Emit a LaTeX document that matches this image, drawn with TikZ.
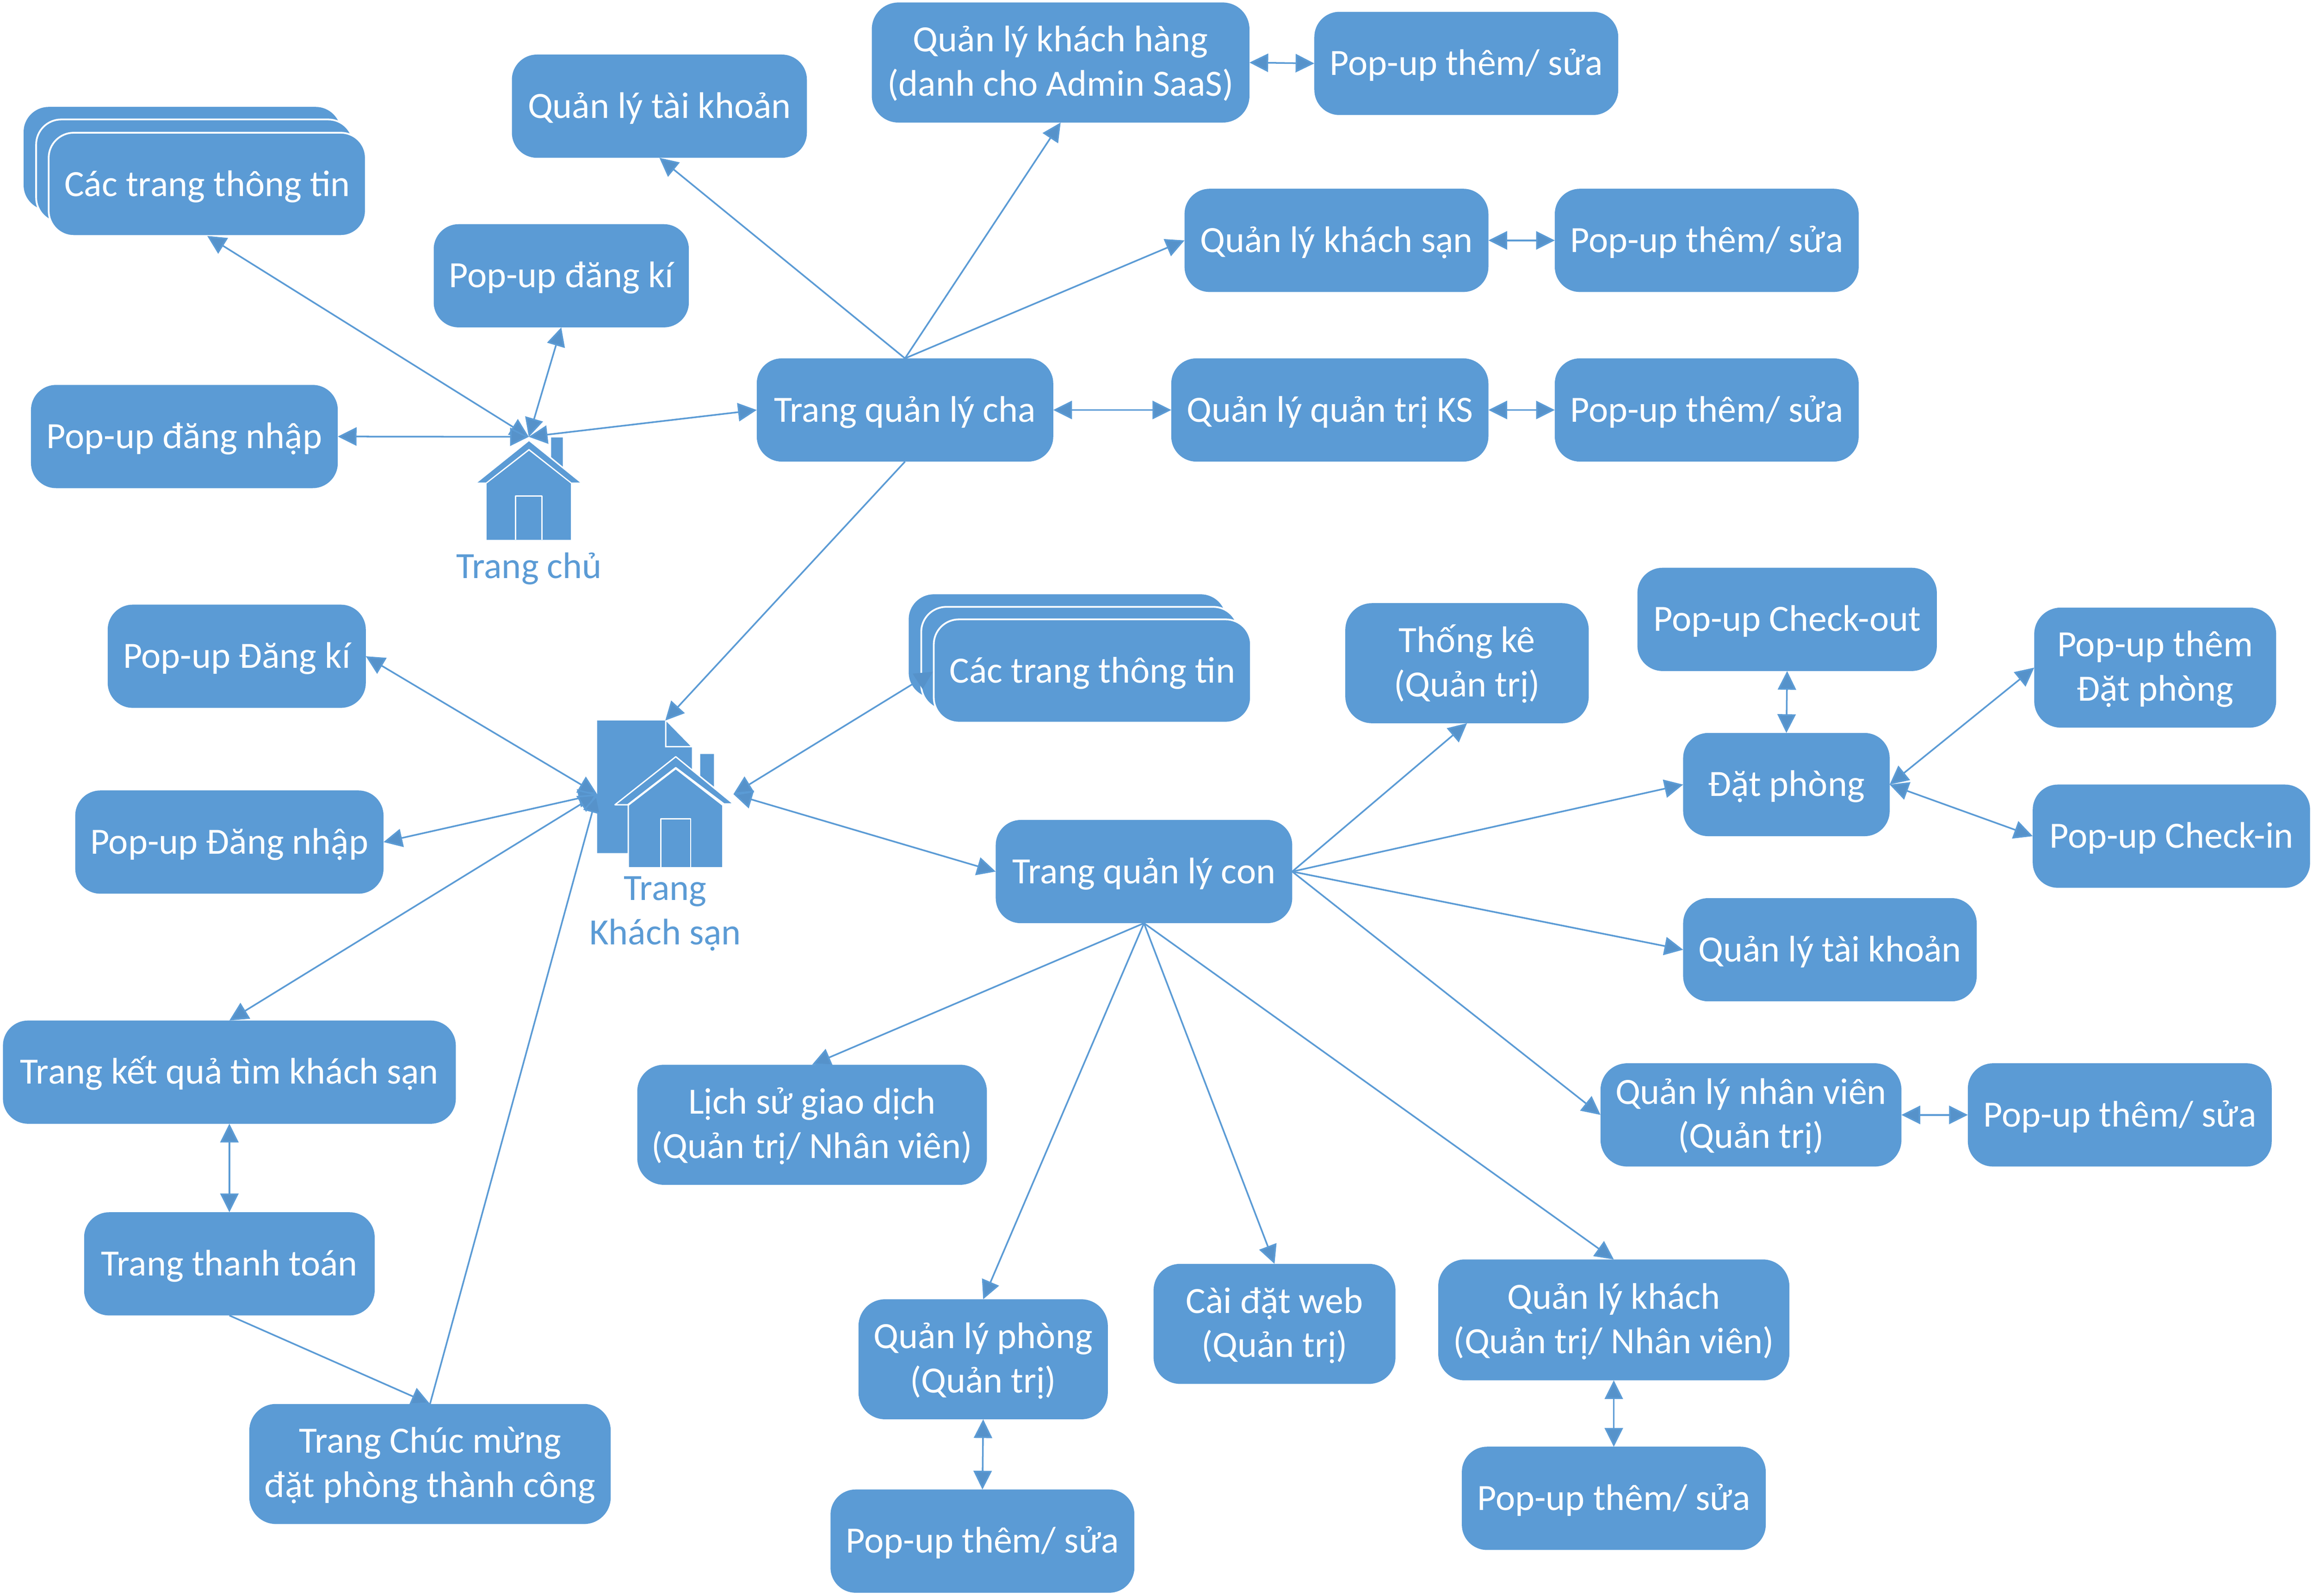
\documentclass[tikz,border=0pt]{standalone}
\usepackage{fontspec}
\setmainfont{Carlito}
\usetikzlibrary{arrows.meta}
\definecolor{fillblue}{HTML}{5B9BD5}
\definecolor{headblue}{HTML}{5692CA}
\newcommand{\stt}{\rule[-6pt]{0pt}{28pt}}
\newcommand{\tworow}[2]{\raisebox{-22.6pt}[0pt][0pt]{\begin{tabular}[b]{@{}c@{}}#1\\#2\end{tabular}}}
\newcommand{\bx}[6][pagebox]{%
  \pgfmathsetmacro\bw{#4-#2}\pgfmathsetmacro\bh{#5-#3}%
  \node[#1,minimum width=\bw pt,minimum height=\bh pt] (#6) at ({(#2+#4)/2},{(#3+#5)/2})}
\tikzset{
  boxbase/.style={fill=fillblue,inner sep=0pt,outer sep=0pt,text=white,
    font=\fontsize{25.1}{30}\selectfont},
  pagebox/.style={boxbase,rounded corners=17pt,execute at begin node=\stt},
  twobox/.style={boxbase,rounded corners=18pt},
  stackbox/.style={pagebox,draw=white,line width=1.2pt},
  link/.style={draw=fillblue,line width=1.1pt,-{Triangle[length=12.7pt,width=12.4pt,fill=headblue]}},
  linkboth/.style={draw=fillblue,line width=1.1pt,{Triangle[length=12.7pt,width=12.4pt,fill=headblue]}-{Triangle[length=12.7pt,width=12.4pt,fill=headblue]}},
  linkback/.style={draw=fillblue,line width=1.1pt,{Triangle[length=12.7pt,width=12.4pt,fill=headblue]}-},
  shapefill/.style={fill=fillblue},
  cutline/.style={fill=fillblue,draw=white,line width=0.9pt,line join=round},
  iconlabel/.style={text=fillblue,align=center,inner sep=0pt,font=\fontsize{25.1}{30}\selectfont},
  iconarea/.style={inner sep=0pt,outer sep=0pt}
}
\begin{document}
\begin{tikzpicture}[x=1pt,y=-1pt]
\useasboundingbox (0,0) rectangle (1568,1082.2);
% stacks
\bx{16}{72.5}{231}{142.5}{st1a} {};
\bx[stackbox]{24.5}{81}{239.5}{151}{st1b} {};
\bx[stackbox]{33}{90}{248}{160}{st1} {Các trang thông tin};
\bx{616}{403}{831}{473}{st2a} {};
\bx[stackbox]{624.5}{411.5}{839.5}{481.5}{st2b} {};
\bx[stackbox]{633}{420}{848}{490}{st2} {Các trang thông tin};
% boxes
\bx{347}{37}{547}{107}{tk1} {Quản lý tài khoản};
\bx[twobox]{591}{1.7}{847}{83.1}{kh} {\tworow{Quản lý khách hàng}{(danh cho Admin SaaS)}};
\bx{891}{8}{1097}{78}{pkh} {Pop-up thêm/ sửa};
\bx{803}{128}{1009}{198}{ks} {Quản lý khách sạn};
\bx{1054}{128}{1260}{198}{pks} {Pop-up thêm/ sửa};
\bx{294}{152}{467}{222}{dk1} {Pop-up đăng kí};
\bx{513}{243}{714}{313}{cha} {Trang quản lý cha};
\bx{21}{261}{229}{331}{dn1} {Pop-up đăng nhập};
\bx{794}{243}{1009}{313}{qt} {Quản lý quản trị KS};
\bx{1054}{243}{1260}{313}{pqt} {Pop-up thêm/ sửa};
\bx{73}{410}{248}{480}{dk2} {Pop-up Đăng kí};
\bx{51}{536}{260}{606}{dn2} {Pop-up Đăng nhập};
\bx{2}{692}{309}{762}{kq} {Trang kết quả tìm khách sạn};
\bx{57}{822}{254}{892}{tt} {Trang thanh toán};
\bx[twobox]{169}{952}{414}{1033.4}{cm} {\tworow{Trang Chúc mừng}{đặt phòng thành công}};
\bx[twobox]{912}{409}{1077}{490.4}{tke} {\tworow{Thống kê}{(Quản trị)}};
\bx{1110}{385}{1313}{455}{co} {Pop-up Check-out};
\bx[twobox]{1379}{412}{1543}{493.4}{pdp} {\tworow{Pop-up thêm}{Đặt phòng}};
\bx{1141}{497}{1281}{567}{dp} {Đặt phòng};
\bx{1378}{532}{1566}{602}{ci} {Pop-up Check-in};
\bx{675}{556}{876}{626}{con} {Trang quản lý con};
\bx{1141}{609}{1340}{679}{tk2} {Quản lý tài khoản};
\bx[twobox]{1085}{721}{1289}{791}{nv} {\tworow{Quản lý nhân viên}{(Quản trị)}};
\bx{1334}{721}{1540}{791}{pnv} {Pop-up thêm/ sửa};
\bx[twobox]{432}{722}{669}{803.4}{ls} {\tworow{Lịch sử giao dịch}{(Quản trị/ Nhân viên)}};
\bx[twobox]{582}{881}{751}{962.4}{ph} {\tworow{Quản lý phòng}{(Quản trị)}};
\bx[twobox]{782}{857}{946}{938.4}{web} {\tworow{Cài đặt web}{(Quản trị)}};
\bx[twobox]{975}{854}{1213}{936}{kh2} {\tworow{Quản lý khách}{(Quản trị/ Nhân viên)}};
\bx{991}{981}{1197}{1051}{pkh2} {Pop-up thêm/ sửa};
\bx{563}{1010}{769}{1080}{pph} {Pop-up thêm/ sửa};
% home icon
\node[iconarea,minimum width=69.5pt,minimum height=69.9pt] (home) at (358.45,331.15) {};
\fill[shapefill] (373.6,296.6) -- (381.5,296.6) -- (381.5,316.4) -- (373.6,309.9) -- cycle;
\fill[shapefill] (358.6,299.2) -- (393.2,327.2) -- (387.5,327.2) -- (358.6,304.3) -- (329.4,327.2) -- (323.7,327.2) -- cycle;
\fill[shapefill] (358.6,305.6) -- (387,327.9) -- (387,366.1) -- (329.9,366.1) -- (329.9,327.9) -- cycle;
\draw[white,line width=0.9pt,line join=round] (349.5,366.1) -- (349.5,336.2) -- (367.5,336.2) -- (367.5,366.1);
\node[iconlabel,anchor=base] (homelabel) at (358.6,392.2) {Trang chủ};
% hotel icon
\node[iconarea,minimum width=92.4pt,minimum height=99.8pt] (hotel) at (451,538.5) {};
\fill[shapefill] (404.8,488.6) -- (450.8,488.6) -- (450.8,506.8) -- (469,506.8) -- (469,578.5) -- (404.8,578.5) -- cycle;
\fill[shapefill] (451.8,489.3) -- (468,505.8) -- (451.8,505.8) -- cycle;
\fill[shapefill] (474.7,511.3) -- (484,511.3) -- (484,533.4) -- (474.7,526) -- cycle;
\filldraw[cutline] (458.1,513.1) -- (497.2,545.1) -- (490.8,545.1) -- (458.1,520.5) -- (425.5,545.7) -- (416.9,545.7) -- cycle;
\filldraw[cutline] (458.1,521.2) -- (490,546) -- (490,588.4) -- (425.9,588.4) -- (425.9,546) -- cycle;
\draw[white,line width=0.9pt,line join=round] (448,588.4) -- (448,555.2) -- (468.2,555.2) -- (468.2,588.4);
\node[iconlabel,anchor=base] (hotellabel1) at (451,610.3) {Trang};
\node[iconlabel,anchor=base] (hotellabel2) at (451,640.4) {Khách sạn};
% connectors
\draw[linkboth] (home.north) -- (st1.south);
\draw[linkboth] (home.north) -- (dk1.south);
\draw[linkboth] (home.north) -- (dn1.east);
\draw[linkboth] (home.north) -- (cha.west);
\draw[link] (cha.north) -- (tk1.south);
\draw[link] (cha.north) -- (kh.south);
\draw[link] (cha.north) -- (ks.west);
\draw[linkboth] (cha.east) -- (qt.west);
\draw[linkboth] (kh.east) -- (pkh.west);
\draw[linkboth] (ks.east) -- (pks.west);
\draw[linkboth] (qt.east) -- (pqt.west);
\draw[link] (cha.south) -- (hotel.north);
\draw[linkboth] (hotel.west) -- (dk2.east);
\draw[linkboth] (hotel.west) -- (dn2.east);
\draw[linkboth] (hotel.west) -- (kq.north);
\draw[link] (cm.north) -- (hotel.west);
\draw[linkboth] (kq.south) -- (tt.north);
\draw[link] (tt.south) -- (cm.north);
\coordinate (st2end) at (622.5,461.5);
\draw[linkback] (hotel.east) -- (st2end);
\fill[headblue] (618.7,456.8) -- (632.4,455.5) -- (625.4,467.3) -- cycle;
\draw[linkboth] (hotel.east) -- (con.west);
\draw[link] (con.east) -- (tke.south);
\draw[link] (con.east) -- (dp.west);
\draw[link] (con.east) -- (tk2.west);
\draw[link] (con.east) -- (nv.west);
\draw[link] (con.south) -- (ls.north);
\draw[link] (con.south) -- (ph.north);
\draw[link] (con.south) -- (web.north);
\draw[link] (con.south) -- (kh2.north);
\draw[linkboth] (dp.north) -- (co.south);
\draw[linkboth] (dp.east) -- (pdp.west);
\draw[linkboth] (dp.east) -- (ci.west);
\draw[linkboth] (nv.east) -- (pnv.west);
\draw[linkboth] (ph.south) -- (pph.north);
\draw[linkboth] (kh2.south) -- (pkh2.north);
\end{tikzpicture}
\end{document}
